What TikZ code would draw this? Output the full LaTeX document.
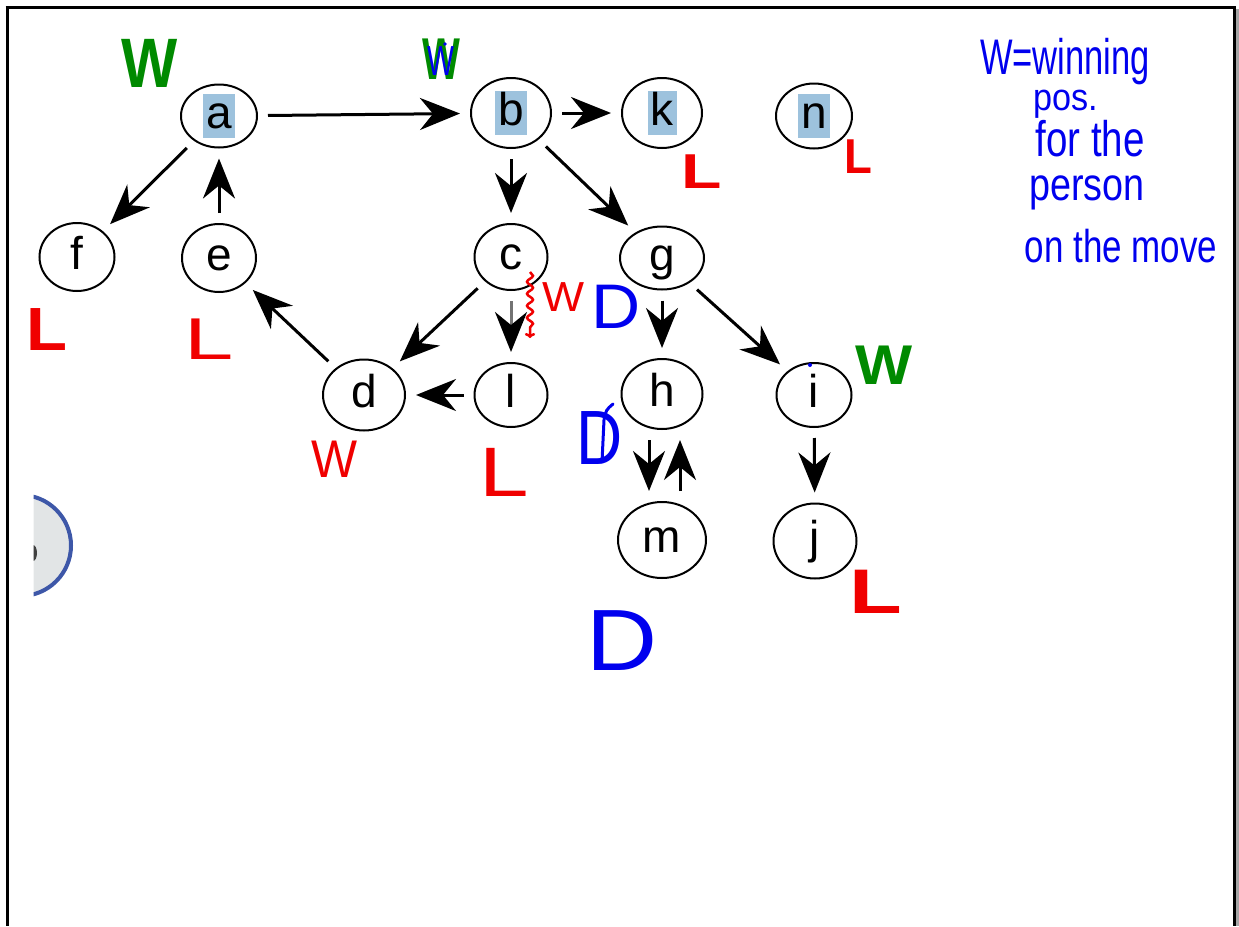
\documentclass[tikz,border=0pt]{standalone}
\usepackage{fontspec}
\usepackage{graphicx}
\usetikzlibrary{arrows.meta,shapes.geometric,decorations.pathmorphing}
\newfontfamily\vfont{Liberation Sans}
\newfontfamily\hfont{Liberation Sans}
\newcommand\fsz[1]{\fontsize{#1}{#1}\selectfont}
\definecolor{hlblue}{HTML}{9DC2DD}
\definecolor{hwgreen}{HTML}{008A00}
\definecolor{hwred}{HTML}{F00000}
\definecolor{hwblue}{HTML}{0000EE}
\definecolor{circgray}{HTML}{E2E5E6}
\definecolor{circblue}{HTML}{3D57A8}
\newcommand\hlbox[1]{{\setlength{\fboxsep}{0pt}\colorbox{hlblue}{\hspace{3pt}\rule[-10pt]{0pt}{44pt}#1\hspace{3pt}}}}
\newcommand\hw[3]{\scalebox{#1}[1]{\fsz{#2}#3}}
\tikzset{
  vtx/.style={ellipse, draw=black, line width=2pt, inner sep=0pt, text height=34pt, text depth=10pt, font=\vfont\fsz{46}},
  arr/.style={line width=3pt, -{Stealth[length=40pt,width=32pt,inset=13pt,black]}, shorten <=10pt, shorten >=10pt},
  hwgb/.style={text=hwgreen, inner sep=0pt, font=\hfont\bfseries},
  hwrb/.style={text=hwred, inner sep=0pt, font=\hfont\bfseries},
  hwr/.style={text=hwred, inner sep=0pt, font=\hfont},
  hwb/.style={text=hwblue, inner sep=0pt, font=\hfont},
  frame/.style={line width=3pt, black}
}
\begin{document}
\begin{tikzpicture}[x=1pt,y=-1pt]
\useasboundingbox (0,0) rectangle (1239,926);
% frame
\fill[gray!70] (1236,9) rectangle (1239,926);
\draw[frame] (5.5,7.5) -- (1235,7.5);
\draw[frame] (7,6) -- (7,926);
\draw[line width=2.5pt] (1234.5,6) -- (1234.5,926);
% partial circle at left
\begin{scope}
  \clip (33.5,480) rectangle (90,610);
  \draw[fill=circgray, draw=circblue, line width=4pt] (20.5,545.5) circle (50.5);
  \fill[black!75] (33,553) ellipse (4 and 8);
\end{scope}
% nodes
\node[vtx, minimum width=76pt, minimum height=63pt] (a) at (219,116) {\hlbox{a}};
\node[vtx, minimum width=80pt, minimum height=70pt] (b) at (511,113) {\hlbox{b}};
\node[vtx, minimum width=80pt, minimum height=70pt] (k) at (662,113) {\hlbox{k}};
\node[vtx, minimum width=76pt, minimum height=65pt] (n) at (814,116) {\hlbox{n}};
\node[vtx, minimum width=75pt, minimum height=68pt] (f) at (77,257) {f};
\node[vtx, minimum width=74pt, minimum height=68pt] (e) at (219,258) {e};
\node[vtx, minimum width=73pt, minimum height=66pt] (c) at (511,257) {c};
\node[vtx, minimum width=84pt, minimum height=63pt] (g) at (662,258) {g};
\node[vtx, minimum width=82pt, minimum height=71pt] (d) at (364,395) {d};
\node[vtx, minimum width=73pt, minimum height=64pt] (l) at (511,395) {l};
\node[vtx, minimum width=81pt, minimum height=70pt] (h) at (662,394) {h};
\node[vtx, minimum width=75pt, minimum height=64pt] (i) at (814,395) {i};
\node[vtx, minimum width=88pt, minimum height=76pt] (m) at (662,540) {m};
\node[vtx, minimum width=83pt, minimum height=75pt] (j) at (815,541) {j};
% edges
\draw[arr] (a) -- (b);
\draw[arr] (b) -- (k);
\draw[arr] (a) -- (f);
\draw[arr] (e) -- (a);
\draw[arr] (b) -- (c);
\draw[arr] (b) -- (g);
\draw[arr] (c) -- (d);
\draw[arr, draw=black!55] (c) -- (l);
\draw[arr] (d) -- (e);
\draw[arr] (l) -- (d);
\draw[arr] (g) -- (h);
\draw[arr] (g) -- (i);
\draw[arr] ([xshift=-13pt]h.south) -- ([xshift=-13pt]m.north);
\draw[arr] ([xshift=18pt]m.north) -- ([xshift=18pt]h.south);
\draw[arr] (i) -- (j);
% handwritten annotations
\node[hwgb] (wa) at (150,63) {\hw{0.85}{70}{W}};
\node[hwgb] (wb) at (441,59) {\hw{0.68}{59}{W}};
\node[hwb] (wbb) at (441,61) {\hw{0.68}{42}{W}};
\fill[hwblue] (445,44) circle (1.8);
\node[hwrb] (lf) at (47,330) {\hw{1.1}{61}{L}};
\node[hwr] (le) at (209,339) {\hw{1.5}{59}{L}};
\node[hwrb] (lk) at (702,172) {\hw{1.35}{49}{L}};
\node[hwrb] (ln) at (858,157) {\hw{0.93}{49}{L}};
\node[hwr] (wd) at (335,459) {\hw{0.92}{53}{W}};
\node[hwr] (ll) at (504,472) {\hw{1.27}{70}{L}};
\coordinate (sqa) at (530,272);
\coordinate (sqb) at (530,338);
\draw[hwred, line width=2.5pt, decorate, decoration={snake, amplitude=3pt, segment length=12pt, post length=8pt}, -{To[length=5pt]}] (sqa) -- (sqb);
\node[hwr] (wc) at (564,297) {\hw{1.06}{42}{W}};
\node[hwb] (dg) at (616,307) {\hw{1.08}{63}{D}};
\fill[hwblue] (632,315) circle (2);
\node[hwb] (dh) at (600,438) {\hw{0.83}{77}{D}};
\coordinate (xs1) at (602,462);
\coordinate (xs2) at (613,404);
\draw[hwblue, line width=3pt, line cap=round] (xs1) -- (604,420) .. controls (606,410) .. (xs2);
\fill[hwblue] (810,365) circle (2);
\node[hwgb] (wi) at (884,365) {\hw{1.08}{56}{W}};
\node[hwrb] (lj) at (876,592) {\hw{1.37}{63}{L}};
\node[hwb] (dm) at (622,641) {\hw{1.13}{87}{D}};
% note
\node[hwb, anchor=base] (t1) at (1065,74) {\hw{0.69}{50}{W=winning}};
\node[hwb, anchor=base] (t2) at (1066,110) {\hw{0.9}{38}{pos.}};
\node[hwb, anchor=base] (t3) at (1090,156) {\hw{0.77}{50}{for the}};
\node[hwb, anchor=base] (t4) at (1087,200) {\hw{0.82}{46}{person}};
\node[hwb, anchor=base] (t5) at (1121,262) {\hw{0.76}{46}{on the move}};
\end{tikzpicture}
\end{document}
